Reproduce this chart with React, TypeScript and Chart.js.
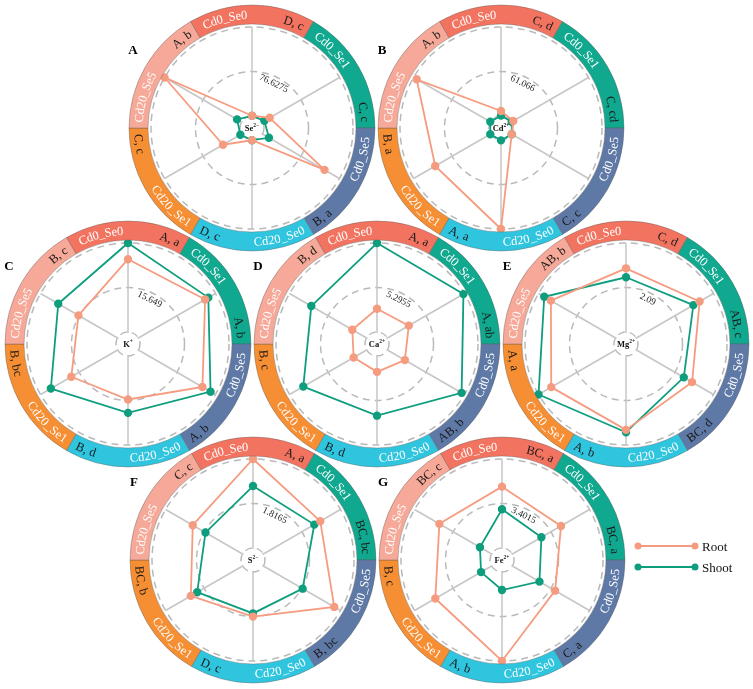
import React, { useEffect, useRef } from 'react';
import { Chart, registerables } from 'chart.js';
Chart.register(...registerables);

// ---------- data ----------
const categories = ['Cd0_Se0', 'Cd0_Se1', 'Cd0_Se5', 'Cd20_Se0', 'Cd20_Se1', 'Cd20_Se5'];
const ringColors = ['#F2735F', '#10A88E', '#5F79A6', '#30C5DE', '#F68E33', '#F6A998'];
const seriesNames = ['Root', 'Shoot'];
const seriesColors = ['#F59C80', '#0E9E7E'];

const panelIds = ['A', 'B', 'C', 'D', 'E', 'F', 'G'];
const ionBase = ['Se', 'Cd', 'K', 'Ca', 'Mg', 'S', 'Fe'];
const ionCharge = ['2−', '2+', '+', '2+', '2+', '2−', '2+'];
const midValues = [76.6275, 61.066, 15.649, 5.2955, 2.09, 1.8165, 3.4015];
const midLabels = ['76.6275', '61.066', '15.649', '5.2955', '2.09', '1.8165', '3.4015'];

const seRoot = [0.5, 14.5, 123.5, 0.5, 37, 153.255];
const seShoot = [0.3, 4, 13, 0.3, 2.5, 9];
const cdRoot = [6.9, 3, 0.5, 122.132, 87.8, 117.2];
const cdShoot = [0.5, 0.5, 0.5, 0.5, 0.5, 0.5];
const kRoot = [25.6, 27.1, 26.0, 15.3, 18.8, 15.9];
const kShoot = [31.298, 28.4, 29.3, 20.0, 27.1, 24.1];
const caRoot = [2.77, 2.94, 2.4, 1.89, 1.78, 1.97];
const caShoot = [10.591, 10.45, 10.2, 7.1, 8.7, 7.6];
const mgRoot = [2.99, 3.43, 3.02, 3.47, 3.49, 3.51];
const mgShoot = [2.57, 3.09, 2.57, 3.58, 4.18, 3.87];
const sRoot = [3.633, 2.68, 3.34, 1.82, 2.44, 2.35];
const sShoot = [2.53, 2.4, 1.85, 1.69, 2.14, 1.75];
const feRoot = [4.69, 4.29, 3.77, 6.803, 4.97, 4.61];
const feShoot = [2.96, 2.56, 2.39, 1.38, 0.93, 1.03];

const seLetters = ['D, c', 'C, c', 'B, a', 'D, c', 'C, c', 'A, b'];
const cdLetters = ['C, d', 'C, cd', 'C, c', 'A, a', 'B, a', 'A, b'];
const kLetters = ['A, a', 'A, b', 'A, b', 'B, d', 'B, bc', 'B, c'];
const caLetters = ['A, a', 'A, ab', 'AB, b', 'B, d', 'B, c', 'B, d'];
const mgLetters = ['C, d', 'AB, c', 'BC, d', 'A, b', 'A, a', 'AB, b'];
const sLetters = ['A, a', 'BC, bc', 'B, bc', 'D, c', 'BC, b', 'C, c'];
const feLetters = ['BC, a', 'BC, a', 'C, a', 'A, b', 'B, c', 'BC, c'];

const rootSets = [seRoot, cdRoot, kRoot, caRoot, mgRoot, sRoot, feRoot];
const shootSets = [seShoot, cdShoot, kShoot, caShoot, mgShoot, sShoot, feShoot];
const letterSets = [seLetters, cdLetters, kLetters, caLetters, mgLetters, sLetters, feLetters];

// ---------- layout ----------
const centers = [[252, 128], [501, 128], [128, 344], [377, 344], [626, 344], [253, 560], [502, 560]];
const SIZE = 262;
const HALF = 131;
const RMAX = 101;
const R0 = 12;
const RING_IN = 104;
const RING_OUT = 123;
const SERIF = '"Liberation Serif", "Times New Roman", serif';

function drawArcText(ctx: CanvasRenderingContext2D, text: string, cx: number, cy: number, r: number, centerDeg: number, color: string) {
  ctx.save();
  ctx.fillStyle = color;
  ctx.font = `12.5px ${SERIF}`;
  ctx.textAlign = 'center';
  ctx.textBaseline = 'alphabetic';
  const total = ctx.measureText(text).width;
  const norm = ((centerDeg % 360) + 360) % 360;
  const bottom = norm > 90 && norm < 270;
  const dir = bottom ? -1 : 1;
  const capH = 4.3;
  let a = (centerDeg * Math.PI) / 180 - (dir * total) / (2 * r);
  for (const ch of text) {
    const w = ctx.measureText(ch).width;
    const ang = a + (dir * (w / 2)) / r;
    const x = cx + r * Math.sin(ang);
    const y = cy - r * Math.cos(ang);
    ctx.save();
    ctx.translate(x, y);
    ctx.rotate(bottom ? ang - Math.PI : ang);
    ctx.fillText(ch, 0, capH);
    ctx.restore();
    a += (dir * w) / r;
  }
  ctx.restore();
}

function Panel({ idx }: { idx: number }) {
  const ref = useRef<HTMLCanvasElement | null>(null);
  useEffect(() => {
    const canvas = ref.current;
    if (!canvas) return;
    const L = midValues[idx];
    const max = 2 * L;
    const min = (-max * R0) / (RMAX - R0);
    const letters = letterSets[idx];

    const decor = {
      id: 'decor' + idx,
      beforeDatasetsDraw(chart: any) {
        const s = chart.scales.r;
        const ctx: CanvasRenderingContext2D = chart.ctx;
        const cx = s.xCenter;
        const cy = s.yCenter;
        ctx.save();
        ctx.beginPath();
        ctx.arc(cx, cy, R0 - 0.9, 0, Math.PI * 2);
        ctx.fillStyle = '#ffffff';
        ctx.fill();
        // tick label
        const rl = s.getDistanceFromCenterForValue(L) - 7;
        const ang = (26 * Math.PI) / 180;
        ctx.translate(cx + rl * Math.sin(ang), cy - rl * Math.cos(ang));
        ctx.rotate(ang);
        ctx.font = `9.5px ${SERIF}`;
        ctx.fillStyle = '#222';
        ctx.textAlign = 'center';
        ctx.textBaseline = 'middle';
        ctx.fillText(midLabels[idx], 0, 0);
        ctx.restore();
      },
      afterDatasetsDraw(chart: any) {
        const s = chart.scales.r;
        const ctx: CanvasRenderingContext2D = chart.ctx;
        const cx = s.xCenter;
        const cy = s.yCenter;
        ctx.save();
        // ring segments
        for (let i = 0; i < 6; i++) {
          const d0 = i * 60 - 30;
          const d1 = i * 60 + 30;
          const a0 = ((d0 - 90) * Math.PI) / 180;
          const a1 = ((d1 - 90) * Math.PI) / 180;
          ctx.beginPath();
          ctx.arc(cx, cy, RING_OUT, a0, a1);
          ctx.arc(cx, cy, RING_IN, a1, a0, true);
          ctx.closePath();
          ctx.fillStyle = ringColors[i];
          ctx.fill();
          ctx.strokeStyle = 'rgba(90,90,90,0.55)';
          ctx.lineWidth = 0.7;
          ctx.stroke();
        }
        const rt = (RING_IN + RING_OUT) / 2;
        ctx.font = `12.5px ${SERIF}`;
        for (let i = 0; i < 6; i++) {
          const th = i * 60;
          drawArcText(ctx, categories[i], cx, cy, rt, th - 14, '#ffffff');
          const w = ctx.measureText(letters[i]).width;
          const half = ((w / 2) / rt) * (180 / Math.PI);
          drawArcText(ctx, letters[i], cx, cy, rt, th + 27 - half, '#1a1a1a');
        }
        // center ion label
        ctx.textBaseline = 'alphabetic';
        ctx.textAlign = 'left';
        ctx.fillStyle = '#111';
        ctx.font = `bold 8.5px ${SERIF}`;
        const bw = ctx.measureText(ionBase[idx]).width;
        ctx.font = `bold 5.5px ${SERIF}`;
        const sw = ctx.measureText(ionCharge[idx]).width;
        const x0 = cx - (bw + sw) / 2;
        ctx.font = `bold 8.5px ${SERIF}`;
        ctx.fillText(ionBase[idx], x0, cy + 3);
        ctx.font = `bold 5.5px ${SERIF}`;
        ctx.fillText(ionCharge[idx], x0 + bw, cy - 1);
        // panel letter
        ctx.font = `bold 13px ${SERIF}`;
        ctx.textAlign = 'center';
        ctx.textBaseline = 'middle';
        ctx.fillStyle = '#000';
        ctx.fillText(panelIds[idx], cx - 119, cy - 77);
        ctx.restore();
      },
    };

    const chart = new Chart(canvas, {
      type: 'radar',
      data: {
        labels: categories,
        datasets: [
          {
            label: seriesNames[0],
            data: rootSets[idx],
            borderColor: seriesColors[0],
            backgroundColor: seriesColors[0],
            pointBackgroundColor: seriesColors[0],
            pointBorderColor: seriesColors[0],
            borderWidth: 1.8,
            pointRadius: 3.3,
            fill: false,
          },
          {
            label: seriesNames[1],
            data: shootSets[idx],
            borderColor: seriesColors[1],
            backgroundColor: seriesColors[1],
            pointBackgroundColor: seriesColors[1],
            pointBorderColor: seriesColors[1],
            borderWidth: 1.8,
            pointRadius: 3.3,
            fill: false,
          },
        ],
      },
      options: {
        animation: false,
        responsive: false,
        devicePixelRatio: 1,
        layout: { padding: HALF - RMAX },
        plugins: { legend: { display: false }, tooltip: { enabled: false } },
        elements: { line: { tension: 0 } },
        scales: {
          r: {
            min,
            max,
            startAngle: 0,
            ticks: { display: false },
            pointLabels: { display: false },
            afterBuildTicks: (scale: any) => {
              scale.ticks = [{ value: 0 }, { value: L }, { value: max }];
            },
            grid: { circular: true, color: '#b9b9b9', lineWidth: 1.5 },
            border: { dash: [7, 5] },
            angleLines: { color: '#c6c6c6', lineWidth: 1.5 },
          },
        },
      },
      plugins: [decor],
    } as any);
    return () => chart.destroy();
  }, [idx]);

  const [cx, cy] = centers[idx];
  return (
    <canvas
      ref={ref}
      width={SIZE}
      height={SIZE}
      style={{ position: 'absolute', left: cx - HALF, top: cy - HALF, width: SIZE, height: SIZE }}
    />
  );
}

function Legend() {
  const rows = [546, 567];
  return (
    <svg width={753} height={689} style={{ position: 'absolute', left: 0, top: 0, pointerEvents: 'none' }}>
      {rows.map((y, i) => (
        <g key={i}>
          <line x1={638} y1={y} x2={695} y2={y} stroke={seriesColors[i]} strokeWidth={2} />
          <circle cx={638} cy={y} r={3.5} fill={seriesColors[i]} />
          <circle cx={695} cy={y} r={3.5} fill={seriesColors[i]} />
          <text x={702} y={y + 4.5} fontFamily={SERIF} fontSize={13} fill="#111">
            {seriesNames[i]}
          </text>
        </g>
      ))}
    </svg>
  );
}

export default function App() {
  return (
    <div style={{ position: 'absolute', left: 0, top: 0, width: 753, height: 689, background: '#fff', overflow: 'hidden' }}>
      {panelIds.map((_, i) => (
        <Panel key={i} idx={i} />
      ))}
      <Legend />
    </div>
  );
}
